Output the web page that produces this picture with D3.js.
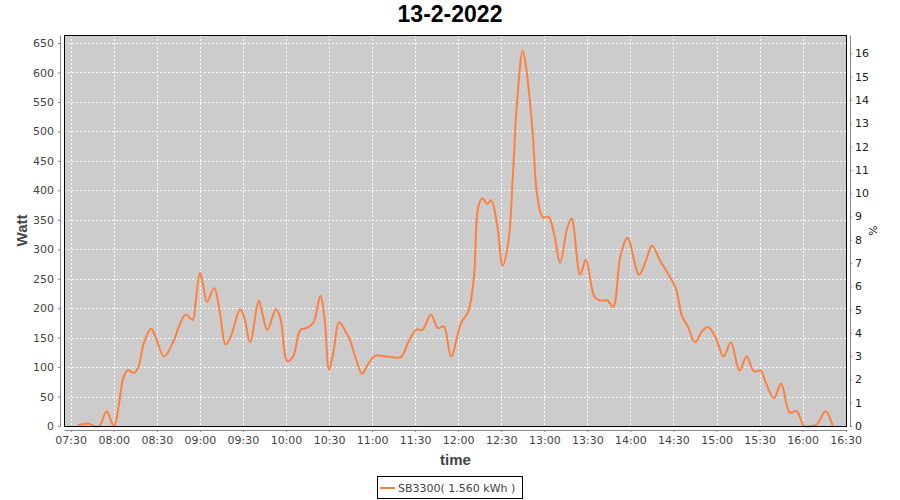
<!DOCTYPE html>
<html>
<head>
<meta charset="utf-8">
<script src="https://cdn.jsdelivr.net/npm/d3@7"></script>
<style>
  body { margin: 0; background: #fff; }
  .tick text { font-family: "DejaVu Sans", sans-serif; font-size: 11px; fill: #444; }
  .grid line { stroke: #fff; stroke-dasharray: 2,2; }
</style>
</head>
<body>
<div id="chart"></div>
<script>
// readings of the SB3300 inverter, 13-2-2022
var times = ["07:35","07:43","07:46","07:50","07:55","08:00","08:07","08:10","08:14","08:17",
  "08:21","08:26","08:29","08:35","08:42","08:45","08:50","08:55","08:57","09:00",
  "09:02","09:05","09:10","09:14","09:18","09:22","09:28","09:31","09:35","09:41",
  "09:43","09:47","09:53","09:56","10:01","10:05","10:10","10:14","10:19","10:24",
  "10:27","10:30","10:33","10:37","10:41","10:45","10:49","10:53","10:57","11:02",
  "11:11","11:20","11:25","11:31","11:35","11:41","11:46","11:50","11:55","12:02",
  "12:07","12:11","12:14","12:17","12:20","12:23","12:27","12:31","12:35","12:38",
  "12:41","12:45","12:48","12:52","12:55","12:59","13:03","13:07","13:11","13:16",
  "13:19","13:25","13:29","13:35","13:39","13:44","13:48","13:53","13:58","14:06",
  "14:11","14:15","14:21","14:28","14:32","14:36","14:40","14:45","14:50","14:54",
  "14:59","15:05","15:10","15:16","15:21","15:26","15:31","15:34","15:40","15:45",
  "15:51","15:56","16:01","16:06","16:10","16:16","16:21"];
var watts = [1, 4, 0, 0, 25, 0, 84, 95, 90, 99,
  141, 165, 152, 118, 146, 166, 189, 180, 209, 260,
  243, 211, 234, 192, 138, 155, 198, 184, 142, 213,
  197, 163, 198, 184, 110, 118, 163, 166, 175, 221,
  180, 96, 124, 176, 163, 143, 112, 89, 104, 119,
  118, 117, 141, 164, 163, 189, 166, 169, 118, 175,
  194, 254, 372, 387, 377, 383, 344, 272, 313, 420,
  550, 637, 596, 494, 392, 354, 355, 324, 277, 336,
  352, 257, 282, 219, 213, 213, 202, 288, 319, 257,
  282, 306, 279, 251, 231, 186, 169, 142, 161, 168,
  152, 118, 142, 94, 118, 93, 94, 76, 47, 72,
  23, 25, 0, 0, 3, 25, 0];
var wattTicks = [0, 50, 100, 150, 200, 250, 300, 350, 400, 450, 500, 550, 600, 650];
var pctTicks = [0, 1, 2, 3, 4, 5, 6, 7, 8, 9, 10, 11, 12, 13, 14, 15, 16];
var timeTicks = ["07:30","08:00","08:30","09:00","09:30","10:00","10:30","11:00","11:30",
  "12:00","12:30","13:00","13:30","14:00","14:30","15:00","15:30","16:00","16:30"];

var parseTime = d3.timeParse("%H:%M");
var data = times.map(function (t, i) { return { time: parseTime(t), value: watts[i] }; });

var margin = { top: 35, right: 53, bottom: 74, left: 64 },
    width = 900 - margin.left - margin.right,
    height = 500 - margin.top - margin.bottom;

var xScale = d3.scaleTime()
    .domain([new Date(parseTime("07:30").getTime() - 280000), new Date(parseTime("16:30").getTime() + 55000)])
    .range([0, width]);

var yScale = d3.scaleLinear().domain([0, 663.6]).range([height, 0]);
var yRight = d3.scaleLinear().domain([0, 16.79]).range([height, 0]);

var svg = d3.select("#chart").append("svg")
    .attr("width", 900)
    .attr("height", 500);

svg.append("text")
    .attr("x", 450).attr("y", 22)
    .attr("text-anchor", "middle")
    .style("font-family", "Liberation Sans, Arial, sans-serif")
    .style("font-weight", "bold")
    .style("font-size", "23px")
    .text("13-2-2022");

var g = svg.append("g")
    .attr("transform", "translate(" + margin.left + "," + margin.top + ")");

g.append("rect")
    .attr("width", width).attr("height", height)
    .attr("fill", "#cccccc");

// grid
g.append("g").attr("class", "grid")
    .selectAll("line").data(wattTicks.slice(1)).enter().append("line")
    .attr("x1", 0).attr("x2", width)
    .attr("y1", function (d) { return Math.round(yScale(d)) + 0.5; })
    .attr("y2", function (d) { return Math.round(yScale(d)) + 0.5; });
g.append("g").attr("class", "grid")
    .selectAll("line").data(timeTicks).enter().append("line")
    .attr("y1", 0).attr("y2", height)
    .attr("x1", function (d) { return Math.round(xScale(parseTime(d))) + 0.5; })
    .attr("x2", function (d) { return Math.round(xScale(parseTime(d))) + 0.5; });

var line = d3.line()
    .x(function (d) { return xScale(d.time); })
    .y(function (d) { return yScale(d.value); })
    .curve(d3.curveCatmullRom.alpha(0.5));

g.append("path")
    .datum(data)
    .attr("fill", "none")
    .attr("stroke", "#ff7f3f")
    .attr("stroke-width", 2)
    .attr("d", line);

g.append("rect")
    .attr("x", 0.5).attr("y", 0.5)
    .attr("width", width - 1).attr("height", height)
    .attr("fill", "none")
    .attr("stroke", "#000");

// axes
var left = g.append("g")
    .attr("transform", "translate(-4,0)")
    .call(d3.axisLeft(yScale).tickValues(wattTicks).tickSize(2).tickSizeOuter(0).tickPadding(4));
var bottom = g.append("g")
    .attr("transform", "translate(0," + (height + 4) + ")")
    .call(d3.axisBottom(xScale).tickValues(timeTicks.map(parseTime))
        .tickFormat(d3.timeFormat("%H:%M")).tickSize(2).tickSizeOuter(0).tickPadding(4));
var right = g.append("g")
    .attr("transform", "translate(" + (width + 3) + ",0)")
    .call(d3.axisRight(yRight).tickValues(pctTicks).tickSize(2).tickSizeOuter(0).tickPadding(3));
right.selectAll("text").style("fill", "#222");
[left, bottom, right].forEach(function (a) {
    a.selectAll("path, line").attr("stroke", "#888");
});

svg.append("text")
    .attr("transform", "translate(27," + (margin.top + height / 2) + ") rotate(-90)")
    .attr("text-anchor", "middle")
    .style("font-family", "Liberation Sans, Arial, sans-serif")
    .style("font-weight", "bold").style("font-size", "15px").style("fill", "#444")
    .text("Watt");

svg.append("text")
    .attr("x", margin.left + width / 2).attr("y", 465)
    .attr("text-anchor", "middle")
    .style("font-family", "Liberation Sans, Arial, sans-serif")
    .style("font-weight", "bold").style("font-size", "15px").style("fill", "#444")
    .text("time");

svg.append("text")
    .attr("transform", "translate(877," + (margin.top + height / 2) + ") rotate(-90)")
    .attr("text-anchor", "middle")
    .style("font-family", "DejaVu Sans, sans-serif")
    .style("font-size", "11px").style("fill", "#222")
    .text("%");

// legend
var legend = svg.append("g").attr("transform", "translate(377,476)");
legend.append("rect")
    .attr("x", 0.5).attr("y", 0.5).attr("width", 145).attr("height", 22)
    .attr("fill", "#fff").attr("stroke", "#000");
legend.append("line")
    .attr("x1", 3).attr("x2", 18).attr("y1", 12).attr("y2", 12)
    .attr("stroke", "#ff7f3f").attr("stroke-width", 2);
legend.append("text")
    .attr("x", 21).attr("y", 16)
    .style("font-family", "DejaVu Sans, sans-serif")
    .style("font-size", "11px").style("fill", "#444")
    .text("SB3300( 1.560 kWh )");
</script>
</body>
</html>
